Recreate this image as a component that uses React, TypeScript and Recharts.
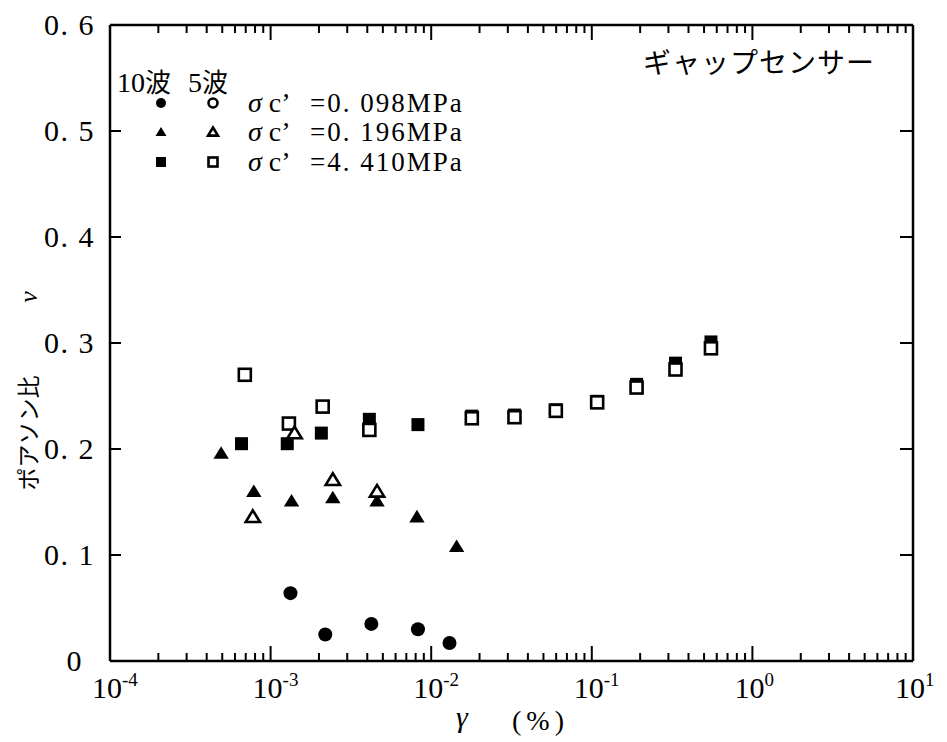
import React from "react";
import { ScatterChart, Scatter, XAxis, YAxis } from "recharts";

// γ (%) vs Poisson's ratio ν
const CIRCLE_10_X = [1.33e-3, 2.19e-3, 4.24e-3, 8.27e-3, 1.3e-2];
const CIRCLE_10_Y = [0.064, 0.025, 0.035, 0.03, 0.017];

const TRI_10_X = [4.92e-4, 7.86e-4, 1.35e-3, 2.44e-3, 4.6e-3, 8.15e-3, 1.44e-2];
const TRI_10_Y = [0.196, 0.16, 0.151, 0.154, 0.151, 0.136, 0.108];
const TRI_5_X = [7.75e-4, 1.41e-3, 2.44e-3, 4.6e-3];
const TRI_5_Y = [0.136, 0.215, 0.171, 0.16];

const SQ_10_X = [6.59e-4, 1.27e-3, 2.07e-3, 4.12e-3, 8.27e-3, 1.79e-2, 3.3e-2, 5.97e-2, 0.108, 0.19, 0.332, 0.552];
const SQ_10_Y = [0.205, 0.205, 0.215, 0.228, 0.223, 0.231, 0.232, 0.237, 0.245, 0.261, 0.281, 0.301];
const SQ_5_X = [6.91e-4, 1.3e-3, 2.11e-3, 4.12e-3, 1.79e-2, 3.3e-2, 5.97e-2, 0.108, 0.19, 0.332, 0.552];
const SQ_5_Y = [0.27, 0.224, 0.24, 0.218, 0.229, 0.23, 0.236, 0.244, 0.258, 0.275, 0.295];

// axis ticks
const X_DECADES = [1e-4, 1e-3, 1e-2, 1e-1, 1, 10];
const X_MINOR_STEPS = [2, 3, 4, 5, 6, 7, 8, 9];
const Y_TICKS = [0, 0.1, 0.2, 0.3, 0.4, 0.5, 0.6];

const LEGEND_ROWS = ["=0. 098MPa", "=0. 196MPa", "=4. 410MPa"];

const X_TICKS = X_DECADES.flatMap((d, i) =>
  i < X_DECADES.length - 1 ? [d, ...X_MINOR_STEPS.map((m) => m * d)] : [d]
);

const SERIF = "'Liberation Serif', 'DejaVu Serif', serif";
const JP = "'Noto Sans CJK JP', 'Noto Sans CJK SC', sans-serif";

const W = 947;
const H = 742;
const PLOT = { left: 110, right: 913, top: 25, bottom: 661 };

const zip = (xs: number[], ys: number[]) => xs.map((x, i) => ({ x, y: ys[i] }));

const isDecade = (v: number) => Math.abs(Math.log10(v) - Math.round(Math.log10(v))) < 1e-6;

type Kind = "circle" | "triangle" | "square";

function Marker({ cx, cy, kind, filled, s }: { cx: number; cy: number; kind: Kind; filled: boolean; s: number }) {
  const fill = filled ? "#000" : "#fff";
  const sw = filled ? 0 : 2.6;
  const h = s / 2;
  if (kind === "circle") {
    return <circle cx={cx} cy={cy} r={filled ? h : h - 1} fill={fill} stroke="#000" strokeWidth={sw} />;
  }
  if (kind === "triangle") {
    const t = filled ? h : h - 1;
    return (
      <polygon
        points={`${cx},${cy - t} ${cx + t * 1.1},${cy + t * 0.8} ${cx - t * 1.1},${cy + t * 0.8}`}
        fill={fill}
        stroke="#000"
        strokeWidth={sw}
      />
    );
  }
  const q = filled ? h : h - 1;
  return <rect x={cx - q} y={cy - q} width={q * 2} height={q * 2} fill={fill} stroke="#000" strokeWidth={sw} />;
}

const shapeOf = (kind: Kind, filled: boolean, s: number) => (p: any) =>
  <Marker cx={p.cx} cy={p.cy} kind={kind} filled={filled} s={s} />;

const isEdgeX = (v: number) => v === X_DECADES[0] || v === X_DECADES[X_DECADES.length - 1];
const isEdgeY = (v: number) => v === Y_TICKS[0] || v === Y_TICKS[Y_TICKS.length - 1];

function BottomTick(p: any) {
  const { x, payload } = p;
  const y = PLOT.bottom;
  const v = payload.value;
  const major = isDecade(v);
  const exp = Math.round(Math.log10(v));
  return (
    <g>
      {!isEdgeX(v) && <line x1={x} x2={x} y1={y} y2={y - (major ? 15 : 8)} stroke="#000" strokeWidth={2} />}
      {major && (
        <text x={x - 18} y={y + 37} fontFamily={SERIF} fontSize={30} fill="#000">
          10
          <tspan dy={-12} fontSize={19}>
            {exp}
          </tspan>
        </text>
      )}
    </g>
  );
}

function TopTick(p: any) {
  const { x, payload } = p;
  const y = PLOT.top;
  const v = payload.value;
  if (isEdgeX(v)) return <g />;
  return <line x1={x} x2={x} y1={y} y2={y + (isDecade(v) ? 15 : 8)} stroke="#000" strokeWidth={2} />;
}

function LeftTick(p: any) {
  const { y, payload } = p;
  const x = PLOT.left;
  const v = payload.value;
  const label = v === 0 ? "0" : "0. " + Math.round(v * 10);
  return (
    <g>
      {!isEdgeY(v) && <line x1={x} x2={x + 11} y1={y} y2={y} stroke="#000" strokeWidth={2} />}
      <text
        x={v === 0 ? x - 27 : x - 15}
        y={y + 10}
        textAnchor="end"
        fontFamily={SERIF}
        fontSize={30}
        letterSpacing={1.5}
        fill="#000"
      >
        {label}
      </text>
    </g>
  );
}

function RightTick(p: any) {
  const { y, payload } = p;
  const x = PLOT.right;
  const v = payload.value;
  if (isEdgeY(v)) return <g />;
  return <line x1={x} x2={x - 13} y1={y} y2={y} stroke="#000" strokeWidth={2} />;
}

const axisLine = { stroke: "#000", strokeWidth: 2.5 };

export default function App() {
  const legendSyms: [Kind, number][] = [
    ["circle", 103],
    ["triangle", 132],
    ["square", 162],
  ];
  return (
    <div style={{ position: "absolute", left: 0, top: 0, width: W, height: H, background: "#fff" }}>
      <ScatterChart
        width={W}
        height={H}
        margin={{ top: PLOT.top - 1, left: PLOT.left - 1, right: W - PLOT.right - 1, bottom: H - PLOT.bottom - 1 }}
      >
        <XAxis
          xAxisId="b"
          dataKey="x"
          type="number"
          scale="log"
          domain={[1e-4, 10]}
          allowDataOverflow
          ticks={X_TICKS}
          interval={0}
          height={1}
          tickSize={0}
          tickMargin={0}
          tickLine={false}
          axisLine={axisLine}
          tick={(p: any) => <BottomTick {...p} />}
        />
        <XAxis
          xAxisId="t"
          orientation="top"
          dataKey="x"
          type="number"
          scale="log"
          domain={[1e-4, 10]}
          allowDataOverflow
          ticks={X_TICKS}
          interval={0}
          height={1}
          tickSize={0}
          tickMargin={0}
          tickLine={false}
          axisLine={axisLine}
          tick={(p: any) => <TopTick {...p} />}
        />
        <YAxis
          yAxisId="l"
          dataKey="y"
          type="number"
          domain={[0, 0.6]}
          allowDataOverflow
          ticks={Y_TICKS}
          interval={0}
          width={1}
          tickSize={0}
          tickMargin={0}
          tickLine={false}
          axisLine={axisLine}
          tick={(p: any) => <LeftTick {...p} />}
        />
        <YAxis
          yAxisId="r"
          orientation="right"
          dataKey="y"
          type="number"
          domain={[0, 0.6]}
          allowDataOverflow
          ticks={Y_TICKS}
          interval={0}
          width={1}
          tickSize={0}
          tickMargin={0}
          tickLine={false}
          axisLine={axisLine}
          tick={(p: any) => <RightTick {...p} />}
        />
        <Scatter xAxisId="b" yAxisId="l" data={zip(SQ_10_X, SQ_10_Y)} shape={shapeOf("square", true, 13)} isAnimationActive={false} />
        <Scatter xAxisId="b" yAxisId="l" data={zip(SQ_5_X, SQ_5_Y)} shape={shapeOf("square", false, 14)} isAnimationActive={false} />
        <Scatter xAxisId="b" yAxisId="l" data={zip(TRI_10_X, TRI_10_Y)} shape={shapeOf("triangle", true, 14)} isAnimationActive={false} />
        <Scatter xAxisId="b" yAxisId="l" data={zip(TRI_5_X, TRI_5_Y)} shape={shapeOf("triangle", false, 15)} isAnimationActive={false} />
        <Scatter xAxisId="b" yAxisId="l" data={zip(CIRCLE_10_X, CIRCLE_10_Y)} shape={shapeOf("circle", true, 14)} isAnimationActive={false} />
      </ScatterChart>

      {/* legend, labels and caption */}
      <svg width={W} height={H} style={{ position: "absolute", left: 0, top: 0, pointerEvents: "none" }}>
        <text x={643} y={73} fontFamily={JP} fontSize={28} letterSpacing={1} fill="#000">
          ギャップセンサー
        </text>
        <text x={117} y={92} fontFamily={SERIF} fontSize={28} fill="#000">
          10<tspan fontFamily={JP} fontSize={26}>波</tspan>
        </text>
        <text x={188} y={92} fontFamily={SERIF} fontSize={28} fill="#000">
          5<tspan fontFamily={JP} fontSize={26}>波</tspan>
        </text>
        {legendSyms.map(([k, cy], i) => (
          <g key={k}>
            <Marker cx={161} cy={cy} kind={k} filled s={10} />
            <Marker cx={213} cy={cy} kind={k} filled={false} s={11} />
            <text x={248} y={cy + 9} fontFamily={SERIF} fontSize={28} fill="#000">
              <tspan fontStyle="italic">σ</tspan> c’
            </text>
            <text x={310} y={cy + 9} fontFamily={SERIF} fontSize={27} letterSpacing={2} fill="#000">
              {LEGEND_ROWS[i]}
            </text>
          </g>
        ))}
        <text
          x={27}
          y={433}
          transform="rotate(-90 27 433)"
          textAnchor="middle"
          dominantBaseline="central"
          fontFamily={JP}
          fontSize={23}
          fill="#000"
        >
          ポアソン比
        </text>
        <text
          x={28}
          y={297}
          transform="rotate(-90 28 297)"
          textAnchor="middle"
          dominantBaseline="central"
          fontFamily={SERIF}
          fontStyle="italic"
          fontSize={26}
          fill="#000"
        >
          ν
        </text>
        <text x={462} y={727} textAnchor="middle" fontFamily={SERIF} fontStyle="italic" fontSize={30} fill="#000">
          γ
        </text>
        <text x={512} y={730} fontFamily={SERIF} fontSize={28} letterSpacing={5} fill="#000">
          (%)
        </text>
      </svg>
    </div>
  );
}
